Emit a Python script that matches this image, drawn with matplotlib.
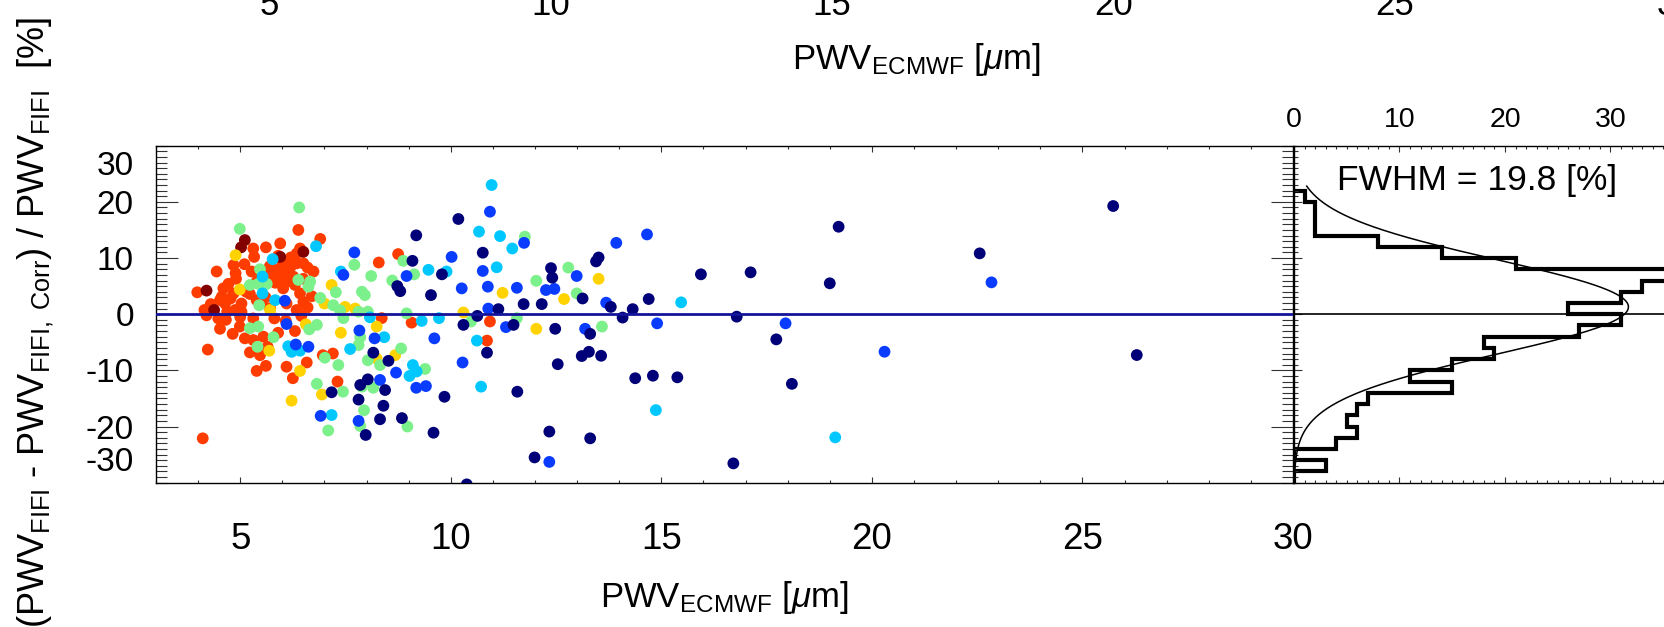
import numpy as np
import matplotlib
matplotlib.use("Agg")
import matplotlib.pyplot as plt
from matplotlib.ticker import MultipleLocator, FixedLocator
from matplotlib.transforms import blended_transform_factory

plt.rcParams['font.family'] = ['Liberation Sans', 'DejaVu Sans']
plt.rcParams['mathtext.fontset'] = 'custom'
plt.rcParams['mathtext.rm'] = 'Liberation Sans'
plt.rcParams['mathtext.it'] = 'Liberation Sans:italic'
plt.rcParams['mathtext.bf'] = 'Liberation Sans:bold'
plt.rcParams['axes.unicode_minus'] = False

# ---------------- data ----------------
navy_x = [25.73, 19.21, 22.56, 15.94, 17.12, 19.0, 14.70, 16.79, 17.73, 26.29, 15.38, 18.10, 16.71, 14.80,
          10.18, 9.18, 10.76, 9.09, 12.38, 12.41, 13.51, 13.45, 13.13, 12.16, 11.73, 11.13, 10.63, 10.3,
          11.49, 12.48, 13.31, 13.8, 14.08, 14.32, 10.86, 11.58, 12.54, 13.11, 13.28, 13.57, 14.38, 9.85,
          9.59, 12.34, 13.31, 11.99, 10.38, 9.79, 8.73, 8.80, 9.53, 8.16, 8.52, 8.03, 8.44, 7.85, 7.17,
          7.81, 8.4, 8.32, 8.84, 7.98]
navy_y = [19.26, 15.57, 10.83, 7.1, 7.45, 5.5, 2.7, -0.44, -4.48, -7.27, -11.24, -12.4, -26.56, -10.95,
          16.95, 14.04, 10.95, 9.5, 8.2, 6.5, 10.1, 9.4, 2.8, 1.8, 1.8, 0.9, -0.3, -1.9,
          -1.9, -2.6, -3.5, 1.3, -0.6, 0.9, -6.85, -13.8, -8.9, -7.45, -6.7, -7.4, -11.4, -14.7,
          -21.1, -20.9, -22.1, -25.5, -30.3, 7.1, 5.0, 4.1, 3.4, -6.85, -8.3, -11.6, -13.5, -12.6, -13.9,
          -15.2, -16.3, -18.7, -18.5, -21.5]

blue_x = [14.66, 22.84, 14.9, 17.95, 20.30, 10.93, 11.74, 13.93, 10.02, 10.76, 12.99, 12.26, 12.46, 11.57,
          10.88, 10.26, 10.89, 11.31, 13.19, 13.69, 10.28, 12.34, 8.95, 7.71, 7.45, 7.83, 8.19, 9.61,
          8.70, 9.41, 9.18, 8.32, 7.81, 6.91, 6.06, 6.10, 6.32, 6.62]
blue_y = [14.2, 5.67, -1.63, -1.63, -6.68, 18.25, 12.7, 12.7, 10.2, 7.7, 6.8, 4.3, 4.5, 4.7,
          4.9, 4.6, 1.0, -2.3, -2.6, 2.05, -8.6, -26.3, 6.8, 11.0, 7.0, -2.9, -4.3, -4.3,
          -10.4, -12.8, -13.1, -11.7, -19.0, -18.1, 2.4, -1.75, -5.4, -5.8]

cyan_x = [15.47, 14.87, 19.13, 10.97, 10.67, 11.17, 11.46, 11.09, 10.62, 10.72, 9.90, 9.47, 7.39, 6.80,
          8.08, 9.31, 9.72, 8.42, 7.61, 9.10, 9.19, 9.02, 7.17, 5.77, 5.53, 5.83, 6.14, 6.22, 6.42, 5.53]
cyan_y = [2.11, -17.07, -21.93, 23.0, 14.7, 13.9, 11.7, 8.35, -4.7, -12.9, 7.6, 7.9, 7.6, 12.1,
          -0.55, -1.2, -0.7, -4.1, -6.2, -9.05, -10.2, -11.0, -17.95, 9.8, 3.7, 2.5, -5.7, -6.7, -6.5, 6.7]

green_x = [11.76, 12.79, 12.03, 12.99, 10.48, 11.57, 13.59, 9.13, 8.87, 8.61, 8.11, 7.71, 6.40, 7.89,
           7.96, 7.27, 6.90, 7.21, 7.37, 7.45, 7.81, 8.03, 8.95, 7.85, 7.81, 8.82, 8.03, 8.32, 7.33,
           7.01, 9.39, 7.89, 8.16, 7.44, 6.82, 7.94, 8.97, 7.85, 7.09, 4.99, 5.23, 5.43, 5.63, 5.47,
           6.66, 6.38, 5.45, 6.82, 6.64, 5.23, 5.43, 5.79, 5.41, 6.62]
green_y = [13.8, 8.3, 5.95, 3.7, -1.3, -0.7, -2.2, 7.1, 9.5, 6.0, 6.8, 8.8, 19.0, 4.0,
           3.4, 3.9, 2.9, 1.6, 0.7, -0.7, 0.45, 0.45, 0.15, -4.1, -5.5, -6.1, -8.2, -9.05, -9.05,
           -7.75, -9.75, -12.9, -13.1, -13.8, -12.4, -17.1, -20.0, -19.9, -20.7, 15.2, 5.2, 5.4, 5.4, 8.0,
           5.8, 6.1, 1.6, -1.9, -2.7, -2.5, -2.2, -4.1, -5.8, 4.9]

yellow_x = [13.51, 12.69, 11.23, 10.3, 12.03, 7.17, 7.0, 7.49, 7.73, 8.24, 7.39, 8.68, 8.24, 6.94,
            6.22, 4.89, 4.99, 5.71, 6.56, 5.69, 6.42]
yellow_y = [6.3, 2.7, 3.8, 0.3, -2.6, 5.2, 1.9, 1.3, 1.0, -2.2, -3.3, -7.3, -7.9, -14.3,
            -15.4, 10.5, 4.4, 0.75, -1.8, -6.5, -10.1]

red_x = [10.93, 10.86, 8.75, 8.29, 6.9, 6.38, 9.07, 8.36, 6.96, 7.2, 7.31,
         4.11, 4.23, 3.98, 4.15, 4.52, 4.44, 5.31, 5.61, 5.95, 5.33, 4.84, 4.89, 4.72, 4.60, 4.56,
         4.84, 5.14, 5.39, 5.27, 5.71, 5.87, 6.02, 6.14, 6.26, 6.10, 5.91, 6.34, 6.42, 6.50, 6.34,
         6.74, 6.42, 6.50, 6.34, 6.10, 5.71, 5.51, 5.39, 5.23, 5.03, 4.77, 4.64, 4.69, 4.88, 5.03,
         4.66, 4.99, 4.82, 5.31, 5.81, 6.08, 5.11, 5.31, 5.55, 5.65, 5.23, 5.47, 5.61, 5.39, 6.10,
         6.25, 6.58, 5.96, 6.02, 5.83, 5.75, 4.52, 4.48,
         6.2, 6.0, 5.7, 6.3, 5.5, 6.5, 6.6, 5.9, 6.2, 5.1, 4.9, 5.6, 6.6, 6.7, 5.0, 4.3, 4.2,
         6.3, 5.9, 6.45]
red_y = [-1.3, -4.7, 10.7, 9.2, 13.4, 15.0, -1.5, -0.7, -7.3, -7.0, -12.0,
         -22.1, -6.3, 3.9, 0.75, -2.6, 7.6, 11.7, 11.9, 12.6, 10.2, 8.75, 7.3, 5.4, 4.6, 3.1,
         3.7, 4.0, 5.8, 7.6, 7.6, 7.9, 8.0, 7.3, 6.7, 5.8, 6.0, 9.05, 11.7, 9.05, 10.8,
         7.6, 3.7, 2.2, 0.75, 1.9, 1.05, 2.1, 2.5, 3.6, 1.9, 2.8, 1.9, 0.45, 0.75, 0.45,
         -1.0, -2.2, -3.5, -0.75, -0.75, -1.15, -4.3, -4.6, -4.0, -5.8, -6.8, -7.3, -9.2, -10.1, -9.35,
         -11.4, -8.6, 6.2, 4.6, 5.6, 6.7, 2.5, -0.75,
         8.5, 9.2, 8.5, 5.2, 6.8, 6.3, 8.3, 10.4, 10.1, 8.9, 6.3, 3.0, 1.2, 3.2, -0.5, 1.8, -0.2,
         -3.0, -3.3, -0.3]

darkred_x = [4.20, 4.38, 5.11, 5.02, 5.95, 6.50]
darkred_y = [4.2, 0.75, 13.2, 11.9, 10.2, 11.1]

# histogram of the relative difference (bin edges in %, counts)
hist_edges = [-30, -28, -26, -24, -22, -20, -18, -16, -14, -12, -10, -8, -6, -4, -2,
              0, 2, 4, 6, 8, 10, 12, 14, 16, 18, 20, 22]
hist_counts = [0, 3, 0, 4, 6, 5, 6, 7, 15, 11, 15, 19, 18, 27, 31,
               26, 31, 33, 38, 21, 14, 8, 2, 2, 2, 1]

# Gaussian fit parameters
fit_amp = 31.7
fit_center = 1.3
fit_fwhm = 19.8
fit_range = (-30.0, 22.8)

x_ticks = [5, 10, 15, 20, 25, 30]
y_ticks = [-20, -10, 0, 10, 20]
hist_ticks = [0, 10, 20, 30, 40]

# ---------------- figure ----------------
W, H = 1665, 627
fig = plt.figure(figsize=(W / 100, H / 100), dpi=100)


def box(l, t, r, b):
    return [l / W, 1 - b / H, (r - l) / W, (b - t) / H]


ax = fig.add_axes(box(156, 145.7, 1293, 482.7))
axh = fig.add_axes(box(1294, 145.7, 1294 + 422, 482.7))

groups = [
    (red_x, red_y, '#ff3c00'),
    (darkred_x, darkred_y, '#820000'),
    (yellow_x, yellow_y, '#ffd200'),
    (green_x, green_y, '#7cf08a'),
    (cyan_x, cyan_y, '#00c8ff'),
    (blue_x, blue_y, '#0a3cff'),
    (navy_x, navy_y, '#000078'),
]
for gx, gy, col in groups:
    ax.scatter(gx, gy, s=72, c=col, edgecolors='none', zorder=3)

ax.axhline(0, color='#14149b', lw=2.0, zorder=4)

ax.set_xlim(3, 30)
ax.set_ylim(-30, 30)
ax.xaxis.set_major_locator(FixedLocator(x_ticks))
ax.xaxis.set_minor_locator(MultipleLocator(1))
ax.yaxis.set_major_locator(FixedLocator(y_ticks))
ax.yaxis.set_minor_locator(MultipleLocator(1))
ax.tick_params(which='both', direction='in', top=True, right=True, color='#333333')
ax.tick_params(axis='y', which='major', length=16, width=0.8, labelsize=24, pad=16)
ax.tick_params(axis='y', which='minor', length=8, width=0.8)
ax.tick_params(axis='x', which='major', length=4.5, width=0.8, labelsize=26.5, pad=28)
ax.tick_params(axis='x', which='minor', length=2.5, width=0.8)
for sp in ax.spines.values():
    sp.set_linewidth(1.0)

# end labels of the y axis
for v, lab in [(26.3, '30'), (-26.4, '-30')]:
    ax.annotate(lab, xy=(0, v), xycoords=('axes fraction', 'data'),
                xytext=(-16, 0), textcoords='offset points',
                ha='right', va='center', fontsize=24)

# histogram panel
axh.stairs(hist_counts, hist_edges, orientation='horizontal', color='k', lw=3.0, baseline=0)
sig = fit_fwhm / (2 * np.sqrt(2 * np.log(2)))
yy = np.linspace(fit_range[0], fit_range[1], 400)
xx = fit_amp * np.exp(-(yy - fit_center) ** 2 / (2 * sig ** 2))
axh.plot(xx, yy, color='k', lw=1.1)
axh.axhline(0, color='k', lw=1.2)
axh.text(4.1, 22.1, 'FWHM = 19.8 [%]', fontsize=25.5, va='baseline', ha='left')

axh.set_xlim(0, 40)
axh.set_ylim(-30, 30)
axh.xaxis.set_major_locator(FixedLocator(hist_ticks))
axh.xaxis.set_minor_locator(MultipleLocator(1))
axh.yaxis.set_major_locator(FixedLocator(y_ticks))
axh.yaxis.set_minor_locator(MultipleLocator(1))
axh.tick_params(which='both', direction='in', top=True, bottom=True, left=True, right=True,
                labeltop=True, labelbottom=False, labelleft=False, color='#333333')
axh.tick_params(axis='x', which='major', length=4.5, width=0.8, labelsize=20.5, pad=9)
axh.tick_params(axis='x', which='minor', length=2.5, width=0.8)
axh.tick_params(axis='y', which='major', length=6, width=0.8)
axh.tick_params(axis='y', which='minor', length=3, width=0.8)
for sp in axh.spines.values():
    sp.set_linewidth(1.0)

# x label
fig.text(724 / W, 1 - 607 / H, r'PWV$_{\rm ECMWF}$ [$\mu$m]', fontsize=25,
         ha='center', va='baseline')

# y label (shared, partly cut off)
fig.text(36 / W, 1 - 322 / H,
         r'(PWV$_{\rm FIFI}$ - PWV$_{\rm FIFI,\ Corr}$) / PWV$_{\rm FIFI}$  [%]',
         rotation=90, fontsize=26, ha='center', va='center')

# remains of the panel above (cut off by the crop)
ax_top = fig.add_axes([157 / W, 1.05, (1676 - 157) / W, 0.1])
ax_top.set_xlim(3, 30)
ax_top.set_axis_off()
tr = blended_transform_factory(ax_top.transData, fig.transFigure)
for v in x_ticks:
    fig.text(v, 1 - 15 / H, str(v), transform=tr, fontsize=25, ha='center', va='baseline')
fig.text(16.5, 1 - 69 / H, r'PWV$_{\rm ECMWF}$ [$\mu$m]', transform=tr, fontsize=25,
         ha='center', va='baseline')

fig.savefig('out.png', dpi=100)
